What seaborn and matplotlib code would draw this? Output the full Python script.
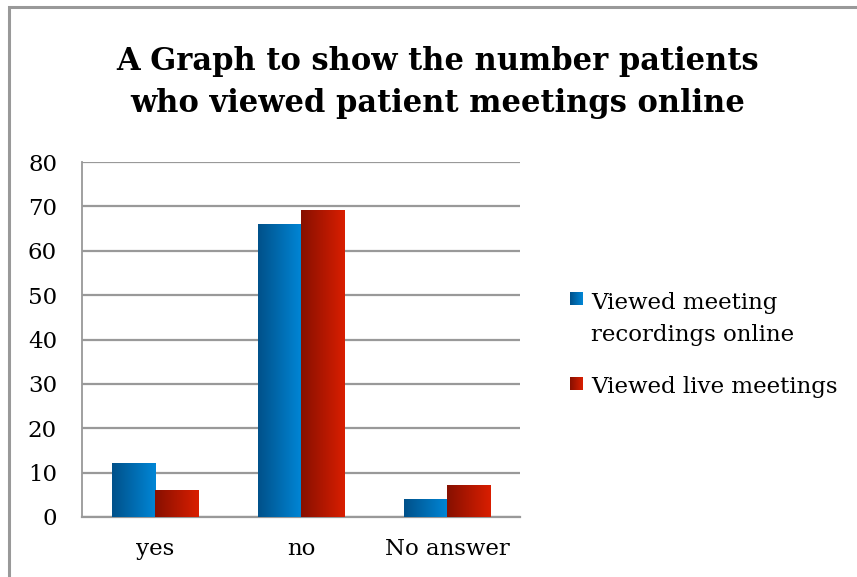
import numpy as np
import pandas as pd
import matplotlib.pyplot as plt
import seaborn as sns
from matplotlib.colors import LinearSegmentedColormap
from matplotlib.patches import Rectangle

# data
categories = ['yes', 'no', 'No answer']
series_names = ['Viewed meeting\nrecordings online', 'Viewed live meetings']
recordings = [12, 66, 4]
live = [6, 69, 7]
y_ticks = [0, 10, 20, 30, 40, 50, 60, 70, 80]

df = pd.DataFrame({
    'category': categories * 2,
    'series': [series_names[0]] * 3 + [series_names[1]] * 3,
    'value': recordings + live,
})

sns.set_theme(style='white')
plt.rcParams['font.family'] = ['DejaVu Serif', 'DejaVu Sans']
plt.rcParams['text.color'] = 'black'

blue_cmap = LinearSegmentedColormap.from_list('b', ['#00518A', '#0086D6'])
red_cmap = LinearSegmentedColormap.from_list('r', ['#871000', '#D91E00'])
palette = {series_names[0]: '#006CB0', series_names[1]: '#B41600'}
cmaps = [blue_cmap, red_cmap]

fig = plt.figure(figsize=(8.57, 5.77), dpi=100)
ax = fig.add_axes([0.0957, 0.104, 0.511, 0.6152])

sns.barplot(data=df, x='category', y='value', hue='series', order=categories,
            hue_order=series_names, palette=palette, width=0.59, legend=False,
            ax=ax, zorder=3)

# horizontal gradient fill on each bar
grad = np.linspace(0, 1, 64).reshape(1, -1)
for i, p in enumerate(ax.patches):
    x, y = p.get_x(), p.get_y()
    w, h = p.get_width(), p.get_height()
    ax.imshow(grad, extent=[x, x + w, y, y + h], aspect='auto', cmap=cmaps[i // 3],
              zorder=4, interpolation='bilinear')
    p.set_visible(False)

ax.set_xlim(-0.5, 2.5)
ax.set_ylim(0, 80)
ax.set_yticks(y_ticks)
ax.yaxis.grid(True, color='#999999', linewidth=1.6, zorder=0)
ax.set_axisbelow(True)
for s in ['top', 'right']:
    ax.spines[s].set_visible(False)
ax.spines['left'].set_color('#999999')
ax.spines['left'].set_linewidth(1.3)
ax.spines['bottom'].set_color('#999999')
ax.spines['bottom'].set_linewidth(1.6)
ax.tick_params(axis='both', length=0, labelsize=16.5, colors='black')
ax.tick_params(axis='y', pad=18)
ax.tick_params(axis='x', pad=15)
ax.set_xlabel('')
ax.set_ylabel('')

fig.text(0.511, 0.857, 'A Graph to show the number patients\nwho viewed patient meetings online',
         ha='center', va='center', fontsize=22, fontweight='bold', linespacing=1.42,
         color='black')

# legend: gradient squares next to the labels
W, H = 857, 577
sq_tops = [292, 377]
line_h = 33
for k, name in enumerate(series_names):
    top = sq_tops[k]
    lax = fig.add_axes([570 / W, 1 - (top + 13) / H, 13 / W, 13 / H])
    lax.imshow(grad, aspect='auto', cmap=cmaps[k], interpolation='bilinear')
    lax.axis('off')
    last_base = top + 16 + line_h * name.count('\n')
    fig.text(591 / W, 1 - last_base / H, name, ha='left', va='baseline',
             fontsize=16.5, linespacing=1.6, color='black')

# chart border
fig.patches.append(Rectangle((9 / W, -0.1), 1.2, 1 - 7 / H + 0.1, transform=fig.transFigure,
                             fill=False, edgecolor='#999999', linewidth=2.2))

fig.savefig('out.png', dpi=100)
